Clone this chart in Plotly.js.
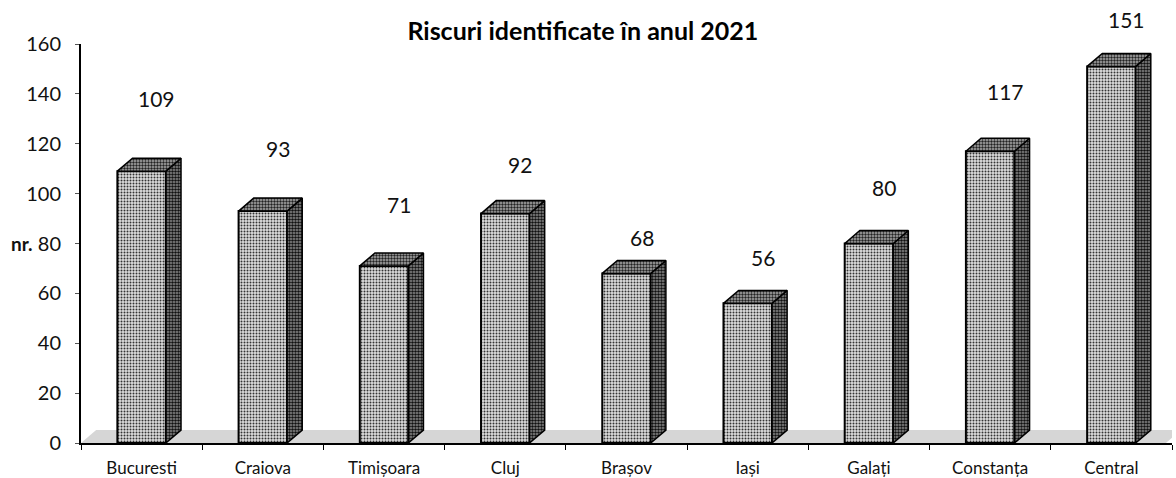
<!DOCTYPE html>
<html>
<head>
<meta charset="utf-8">
<script src="https://cdn.plot.ly/plotly-3.0.1.min.js"></script>
<style>html,body{margin:0;padding:0;background:#fff;}#chart{width:1176px;height:478px;}</style>
</head>
<body>
<div id="chart"></div>
<script>
// ---- data ----
const categories = ["Bucuresti", "Craiova", "Timișoara", "Cluj", "Brașov", "Iași", "Galați", "Constanța", "Central"];
const values = [109, 93, 71, 92, 68, 56, 80, 117, 151];
const yTickValues = [0, 20, 40, 60, 80, 100, 120, 140, 160];

// ---- styling / geometry constants ----
const FONT = "Lato, 'Open Sans', sans-serif";
const barW = 0.4;      // front face width (category units)
const depthX = 0.125;  // 3D depth, horizontal (category units)
const depthY = 5.2;    // 3D depth, vertical (value units)
const labelLift = [73, 63, 61, 49, 36, 46, 56, 60, 47]; // px above bar top (label placement)

const idx = categories.map((c, i) => i);

// side faces and top faces as polygons built from the values
const sideX = [], sideY = [], topX = [], topY = [];
idx.forEach(i => {
  const v = values[i];
  const r = i + barW / 2, l = i - barW / 2;
  sideX.push(r, r + depthX, r + depthX, r, r, null);
  sideY.push(0, depthY, v + depthY, v, 0, null);
  topX.push(l, l + depthX, r + depthX, r, l, null);
  topY.push(v, v + depthY, v + depthY, v, v, null);
});

const traces = [
  {
    type: "scatter", mode: "lines", x: sideX, y: sideY, fill: "toself",
    fillcolor: "#666",
    fillpattern: {shape: ".", bgcolor: "#8e8e8e", fgcolor: "#111", size: 3, solidity: 0.55},
    line: {color: "#000", width: 1.5}, hoverinfo: "skip", showlegend: false
  },
  {
    type: "scatter", mode: "lines", x: topX, y: topY, fill: "toself",
    fillcolor: "#888",
    fillpattern: {shape: ".", bgcolor: "#adadad", fgcolor: "#222", size: 3, solidity: 0.5},
    line: {color: "#000", width: 1.5}, hoverinfo: "skip", showlegend: false
  },
  {
    type: "bar", x: idx, y: values, width: barW,
    marker: {
      color: "#c4c4c4",
      pattern: {shape: ".", bgcolor: "#dedede", fgcolor: "#333", size: 3, solidity: 0.35},
      line: {color: "#000", width: 2}
    },
    hovertext: categories, showlegend: false
  }
];

const annotations = idx.map(i => ({
  x: i, y: values[i], xref: "x", yref: "y",
  text: String(values[i]), showarrow: false,
  xanchor: "center", yanchor: "middle",
  xshift: 15, yshift: labelLift[i],
  font: {family: FONT, size: 21, color: "#111"}
}));
annotations.push({
  xref: "paper", yref: "y", x: 0, y: 80, xanchor: "right", yanchor: "middle",
  xshift: -46, text: "<b>nr.</b>", showarrow: false,
  font: {family: FONT, size: 19, color: "#111"}
});

const floorPath = `M -0.5 0 L 8.45 0 L ${8.45 + depthX} ${depthY} L ${-0.5 + depthX} ${depthY} Z`;

const layout = {
  width: 1176, height: 478,
  margin: {l: 81, r: 4, t: 44, b: 35},
  paper_bgcolor: "#fff", plot_bgcolor: "#fff",
  font: {family: FONT, color: "#111"},
  title: {
    text: "<b>Riscuri identificate în anul 2021</b>",
    font: {family: FONT, size: 25, color: "#000"},
    xref: "paper", x: 0.460, xanchor: "center",
    yref: "container", y: 0.935, yanchor: "middle"
  },
  bargap: 0.6,
  xaxis: {
    range: [-0.5, 8.5],
    tickmode: "array", tickvals: idx, ticktext: categories,
    ticks: "", showgrid: false, zeroline: false,
    showline: true, linecolor: "#000", linewidth: 2,
    tickfont: {family: FONT, size: 17, color: "#111"},
    ticklabelstandoff: 9,
    minor: {tickmode: "linear", tick0: -0.5, dtick: 1, ticks: "outside", ticklen: 5, tickcolor: "#000", tickwidth: 1},
    fixedrange: true
  },
  yaxis: {
    range: [0, 160],
    tickmode: "array", tickvals: yTickValues,
    ticks: "outside", ticklen: 4, tickcolor: "#555", tickwidth: 1,
    showgrid: false, zeroline: false,
    showline: true, linecolor: "#000", linewidth: 2,
    tickfont: {family: FONT, size: 20, color: "#111"},
    ticklabelstandoff: 10,
    fixedrange: true
  },
  shapes: [{
    type: "path", xref: "x", yref: "y", path: floorPath, layer: "below",
    fillcolor: "#d6d6d6", line: {width: 0}
  }],
  annotations: annotations
};

Plotly.newPlot("chart", traces, layout, {displayModeBar: false, staticPlot: true});
</script>
</body>
</html>
